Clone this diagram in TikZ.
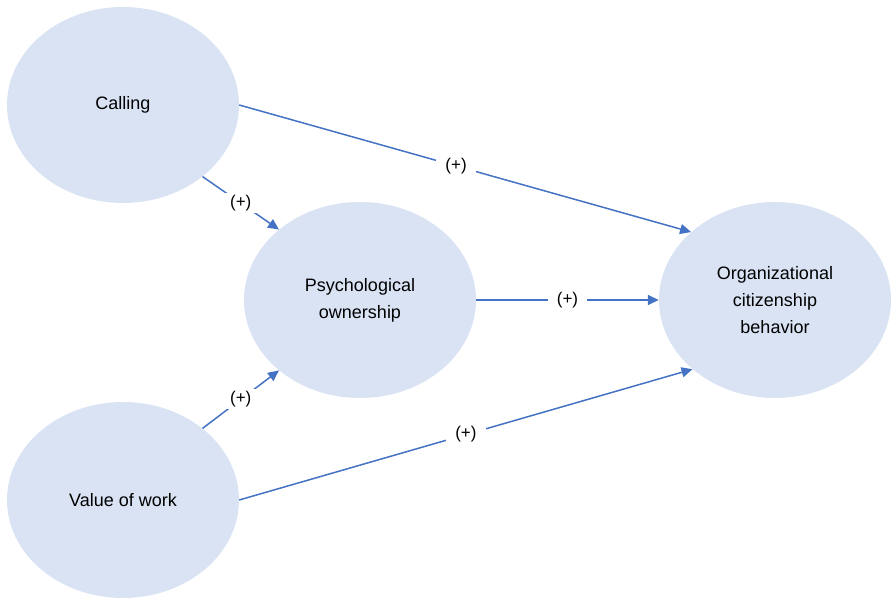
\documentclass[tikz,border=0pt]{standalone}
\usepackage{fontspec}
\setmainfont{Liberation Sans}
\usetikzlibrary{shapes.geometric,arrows.meta}
\definecolor{bleuclair}{RGB}{218,227,243}
\definecolor{bleu}{RGB}{68,114,196}

\begin{document}
\begin{tikzpicture}[x=1pt,y=1pt]
\tikzstyle{fleche}=[-{Triangle[length=11pt,width=10pt]},color=bleu,line width=1.5pt]
\tikzset{facteur/.style={ellipse,fill=bleuclair,minimum width=232pt,minimum height=196pt,inner sep=0pt,align=center,font=\fontsize{18}{27}\selectfont},
signe/.style={fill=white,text=black,inner xsep=9pt,inner ysep=2pt,font=\fontsize{17}{19}\selectfont}}
\useasboundingbox (0,0) rectangle (895,605);
\node[facteur] (calling) at (123,500) {Calling};
\node[facteur] (valeur) at (123,105) {Value of work};
\node[facteur] (psycho) at (360,305) {Psychological\\ownership};
\node[facteur] (ocb) at (775,305) {Organizational\\citizenship\\behavior};

\draw[fleche] (calling.east) -- node[signe,pos=0.48] {(+)} (ocb.141);
\draw[fleche] (calling.318) -- node[signe] {(+)} (psycho.139);
\draw[fleche] (psycho.east) -- node[signe] {(+)} (ocb.west);
\draw[fleche] (valeur.42) -- node[signe] {(+)} (psycho.221);
\draw[fleche] (valeur.east) -- node[signe] {(+)} (ocb.220);

\end{tikzpicture}
\end{document}
